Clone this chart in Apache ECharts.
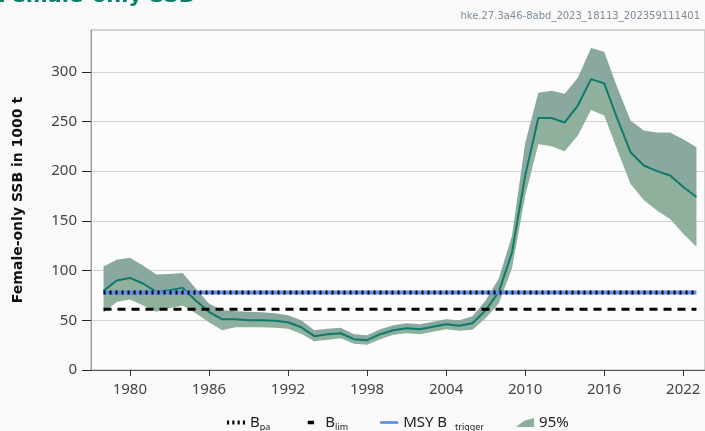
<!DOCTYPE html>
<html>
<head>
<meta charset="utf-8">
<script src="https://cdn.jsdelivr.net/npm/echarts@6/dist/echarts.min.js"></script>
<style>
  html, body { margin: 0; padding: 0; background: #f9f9f9; }
  #main { width: 705px; height: 431px; }
</style>
</head>
<body>
<div id="main"></div>
<script>
// years and female-only SSB (1000 t)
var years = [1978,1979,1980,1981,1982,1983,1984,1985,1986,1987,1988,1989,1990,1991,1992,1993,1994,1995,1996,1997,1998,1999,2000,2001,2002,2003,2004,2005,2006,2007,2008,2009,2010,2011,2012,2013,2014,2015,2016,2017,2018,2019,2020,2021,2022,2023];
var ssb = [79.6,90,92.6,87,78.6,80.3,82.6,70,58.5,51,51,50,50,49.5,48,43,34,36,37,31,30,36,40,42,41,43.5,46,44.5,47,60,78.6,118,195,253.5,253.5,249,266,292.6,288.3,252.5,219,205.7,200,195.6,184,174];
var ssbHigh = [104,111,113,105,96,96.6,97.6,82,67,60,59,58.5,58,57,55,50,40,41.5,42.5,36,35,41,45,47,46,48.5,51,50,54,70,92,135,228,279,281,278,294,324,320,284,251,241,239,239,232,224];
var ssbLow = [57.5,68.5,71,65,58.5,62,65,57,48,40,43,43,43,42.5,41.5,36.5,29,30.5,32,26.5,25.5,31,35.5,37,36,38.5,41,39.5,40.5,52,67,102,175,227,225,220,236,261.5,256,221,187,171,160.5,152,137,124];

// reference points
var refYears = [1978, 2023];
var bpa = 78;
var blim = 61;
var msyBtrigger = 78;

var xTicks = [1980,1986,1992,1998,2004,2010,2016,2022];

function pairs(xs, ys) {
  return xs.map(function (x, i) { return [x, ys[i]]; });
}

// band polygon between two curves, drawn once through the axes
function bandRenderer(lowArr, highArr, fill) {
  return function (params, api) {
    if (params.dataIndex !== 0) return;
    var pts = [];
    for (var i = 0; i < years.length; i++) pts.push(api.coord([years[i], highArr[i]]));
    for (var j = years.length - 1; j >= 0; j--) pts.push(api.coord([years[j], lowArr[j]]));
    return {
      type: 'polygon',
      shape: { points: pts },
      style: { fill: fill, stroke: null }
    };
  };
}

var myChart = echarts.init(document.getElementById('main'));

var labelNames = {
  'Bpa': '{m|B}{s|pa}',
  'Blim': '{m|B}{s|lim}',
  'MSY Btrigger': '{m|MSY B  }{s|trigger}',
  '95%': '{m|95%}'
};

var option = {
  backgroundColor: '#f9f9f9',
  animation: false,
  textStyle: { fontFamily: 'Noto Sans' },
  graphic: [
    {
      type: 'text', left: -2, top: -14,
      style: { text: 'Female-only SSB', fill: '#0e7d6c', font: 'bold 21px "DejaVu Sans"' }
    },
    {
      type: 'text', right: 5, top: 11,
      style: { text: 'hke.27.3a46-8abd_2023_18113_202359111401', fill: '#7d8b99', font: '10px "DejaVu Sans"' }
    }
  ],
  grid: {
    left: 91, right: -2, top: 30, bottom: 61,
    show: true, backgroundColor: '#fcfcfc', borderColor: '#aaaaaa', borderWidth: 1
  },
  legend: {
    left: 222, top: 410,
    itemGap: 32, itemWidth: 18, itemHeight: 10,
    data: [
      { name: 'Bpa', icon: 'path://M0,3h2v4h-2z M5,3h2v4h-2z M10,3h2v4h-2z M15,3h2v4h-2z', itemStyle: { color: '#000' } },
      { name: 'Blim', icon: 'path://M6,3h7v4h-7z M0,0h0.01v0.01h-0.01z M19.99,9.99h0.01v0.01h-0.01z', itemStyle: { color: '#000' } },
      { name: 'MSY Btrigger', icon: 'path://M0,3.5h20v3h-20z', itemStyle: { color: '#5b8ff0' } },
      { name: '95%', icon: 'path://M0,10 L9,3 L20,0 L20,10 Z', itemStyle: { color: '#8cae98' } }
    ],
    formatter: function (name) { return labelNames[name]; },
    textStyle: {
      rich: {
        m: { fontSize: 15, color: '#222', fontFamily: 'Noto Sans' },
        s: { fontSize: 9, color: '#222', fontFamily: 'Noto Sans', verticalAlign: 'bottom', padding: [9, 0, 0, 0] }
      }
    }
  },
  xAxis: {
    type: 'value', min: 1977.05, max: 2023.65,
    axisLine: { lineStyle: { color: '#555', width: 1 } },
    axisTick: { customValues: xTicks, length: 6, lineStyle: { color: '#333' } },
    axisLabel: {
      customValues: xTicks, margin: 12, fontSize: 15, color: '#444',
      formatter: function (v) { return String(v); }
    },
    splitLine: { show: false }
  },
  yAxis: {
    type: 'value', min: 0, max: 342, interval: 50,
    name: 'Female-only SSB in 1000 t', nameLocation: 'middle', nameGap: 66,
    nameTextStyle: { fontSize: 14, fontWeight: 'bold', color: '#111', fontFamily: 'DejaVu Sans' },
    axisLine: { show: true, lineStyle: { color: '#999' } },
    axisTick: { show: true, length: 9, lineStyle: { color: '#222' } },
    axisLabel: { fontSize: 15, color: '#444', margin: 14, showMaxLabel: false },
    splitLine: { lineStyle: { color: '#d2d2d2' } }
  },
  series: [
    {
      name: 'loBand', type: 'custom', z: 1, silent: true,
      renderItem: bandRenderer(ssbLow, ssb, '#8fb09d'),
      data: pairs(years, ssb)
    },
    {
      name: '95%', type: 'custom', z: 1, silent: true,
      renderItem: bandRenderer(ssb, ssbHigh, '#89a8a0'),
      itemStyle: { color: '#8cae98' },
      data: pairs(years, ssb)
    },
    {
      name: 'SSB', type: 'line', symbol: 'none',
      lineStyle: { color: '#0f7a69', width: 2 },
      data: pairs(years, ssb), z: 3
    },
    {
      name: 'MSY Btrigger', type: 'line', symbol: 'none',
      lineStyle: { color: '#5b8ff0', width: 4 }, itemStyle: { color: '#5b8ff0' },
      data: pairs(refYears, [msyBtrigger, msyBtrigger]), z: 4
    },
    {
      name: 'Bpa', type: 'line', symbol: 'none',
      lineStyle: { color: '#000', width: 4, type: [2, 4] }, itemStyle: { color: '#000' },
      data: pairs(refYears, [bpa, bpa]), z: 5
    },
    {
      name: 'Blim', type: 'line', symbol: 'none',
      lineStyle: { color: '#000', width: 3, type: [8, 6] }, itemStyle: { color: '#000' },
      data: pairs(refYears, [blim, blim]), z: 5
    }
  ]
};

myChart.setOption(option);
</script>
</body>
</html>
